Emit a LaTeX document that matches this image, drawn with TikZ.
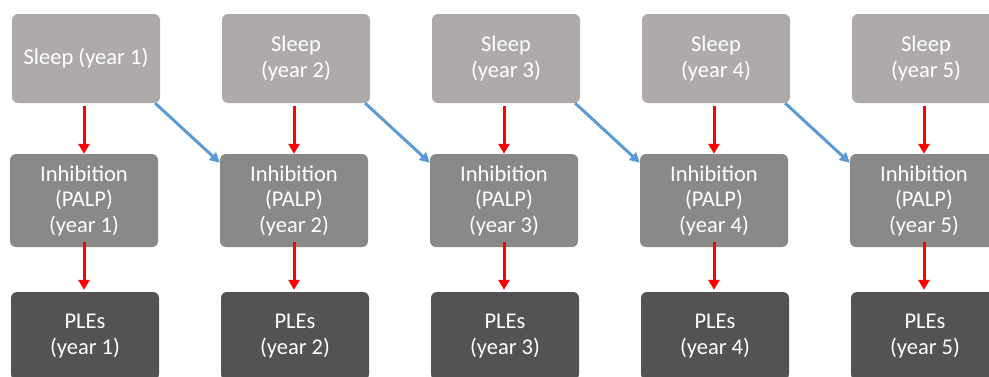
\documentclass[tikz,border=0pt]{standalone}
\usepackage{fontspec}
\setmainfont{Carlito}
\usetikzlibrary{arrows.meta}
\definecolor{sleepgray}{HTML}{AEAAAA}
\definecolor{inhgray}{HTML}{898989}
\definecolor{plegray}{HTML}{535353}
\definecolor{crossblue}{HTML}{5B9BD5}
\begin{document}
\begin{tikzpicture}[x=1pt,y=1pt]
\tikzstyle{box}=[rounded corners=6pt, text=white, align=center, minimum width=148pt, inner sep=0pt, font=\fontsize{22.5}{25.5}\selectfont]
\tikzstyle{sleepbox}=[box, fill=sleepgray, minimum height=89pt]
\tikzstyle{inhbox}=[box, fill=inhgray, minimum height=93pt]
\tikzstyle{plebox}=[box, fill=plegray, minimum height=88pt]
\tikzstyle{redarrow}=[draw=red, line width=3pt, -{Triangle[length=10pt,width=11pt]}]
\tikzstyle{bluearrow}=[draw=crossblue, line width=3pt, -{Triangle[length=10pt,width=10pt]}]
\useasboundingbox (0,0) rectangle (989,-376);
\clip (0,0) rectangle (989,-376);
\node [sleepbox] (s1) at (86,-58.5) {Sleep (year 1)};
\node [sleepbox] (s2) at (296,-58.5) {Sleep\\(year 2)};
\node [sleepbox] (s3) at (506,-58.5) {Sleep\\(year 3)};
\node [sleepbox] (s4) at (716,-58.5) {Sleep\\(year 4)};
\node [sleepbox] (s5) at (926,-58.5) {Sleep\\(year 5)};
\node [inhbox] (i1) at (84,-200.5) {Inhibition\\(PALP)\\(year 1)};
\node [inhbox] (i2) at (294,-200.5) {Inhibition\\(PALP)\\(year 2)};
\node [inhbox] (i3) at (504,-200.5) {Inhibition\\(PALP)\\(year 3)};
\node [inhbox] (i4) at (714,-200.5) {Inhibition\\(PALP)\\(year 4)};
\node [inhbox] (i5) at (924,-200.5) {Inhibition\\(PALP)\\(year 5)};
\node [plebox] (p1) at (85,-336) {PLEs\\(year 1)};
\node [plebox] (p2) at (295,-336) {PLEs\\(year 2)};
\node [plebox] (p3) at (505,-336) {PLEs\\(year 3)};
\node [plebox] (p4) at (715,-336) {PLEs\\(year 4)};
\node [plebox] (p5) at (925,-336) {PLEs\\(year 5)};
\draw [redarrow] ([yshift=-3pt]i1.north |- s1.south) -- (i1.north);
\draw [redarrow] ([yshift=-3pt]i2.north |- s2.south) -- (i2.north);
\draw [redarrow] ([yshift=-3pt]i3.north |- s3.south) -- (i3.north);
\draw [redarrow] ([yshift=-3pt]i4.north |- s4.south) -- (i4.north);
\draw [redarrow] ([yshift=-3pt]i5.north |- s5.south) -- (i5.north);
\draw [redarrow] ([yshift=5pt]i1.south) -- ([yshift=2pt]i1.south |- p1.north);
\draw [redarrow] ([yshift=5pt]i2.south) -- ([yshift=2pt]i2.south |- p2.north);
\draw [redarrow] ([yshift=5pt]i3.south) -- ([yshift=2pt]i3.south |- p3.north);
\draw [redarrow] ([yshift=5pt]i4.south) -- ([yshift=2pt]i4.south |- p4.north);
\draw [redarrow] ([yshift=5pt]i5.south) -- ([yshift=2pt]i5.south |- p5.north);
\draw [bluearrow] ([xshift=-5pt]s1.south east) -- ([yshift=-9pt]i2.north west);
\draw [bluearrow] ([xshift=-5pt]s2.south east) -- ([yshift=-9pt]i3.north west);
\draw [bluearrow] ([xshift=-5pt]s3.south east) -- ([yshift=-9pt]i4.north west);
\draw [bluearrow] ([xshift=-5pt]s4.south east) -- ([yshift=-9pt]i5.north west);
\end{tikzpicture}
\end{document}
